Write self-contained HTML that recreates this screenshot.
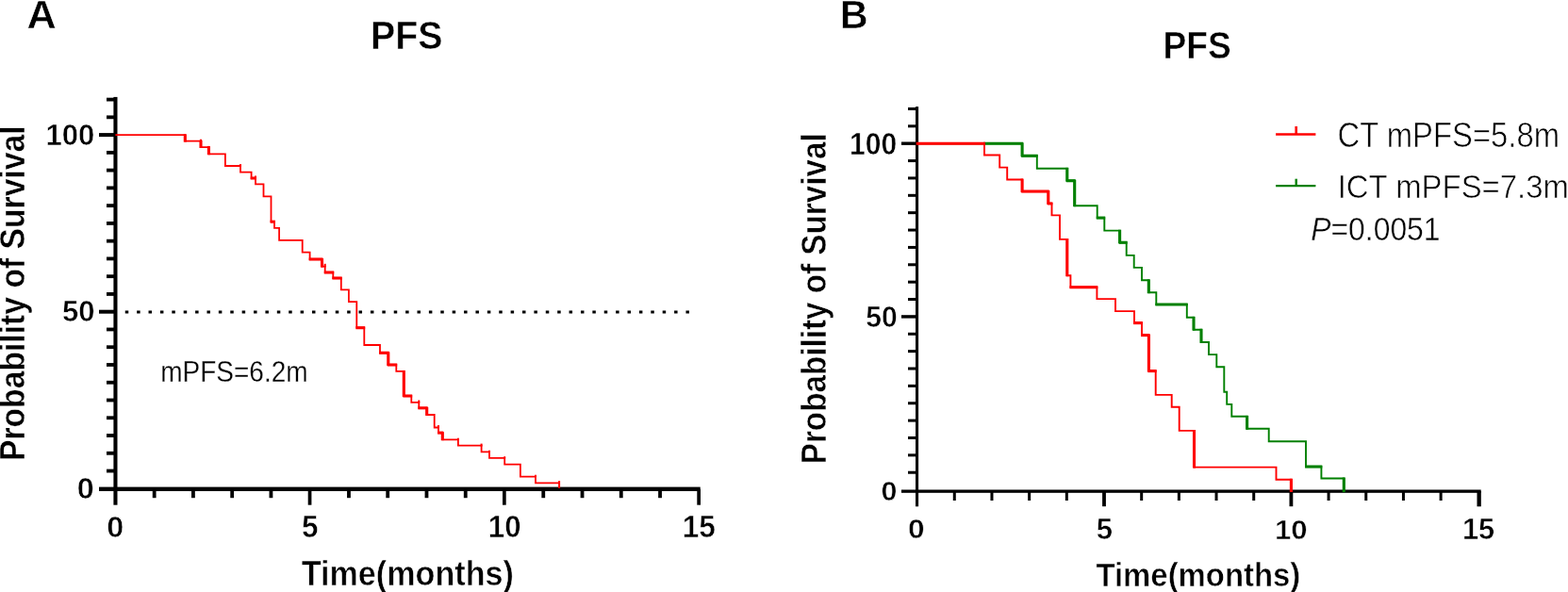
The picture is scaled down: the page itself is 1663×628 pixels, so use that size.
<!DOCTYPE html>
<html><head><meta charset="utf-8"><title>PFS Kaplan-Meier curves</title>
<style>html,body{margin:0;padding:0;background:#fff;}svg{display:block;}</style></head>
<body>
<svg width="1663" height="628" viewBox="0 0 1663 628">
<rect width="1663" height="628" fill="#fff"/>
<g fill="#000"><rect x="120.4" y="102.9" width="4.1" height="432.8"/><rect x="105" y="516.6" width="637.7" height="4.4"/><rect x="113" y="497.64" width="9.4" height="3.8"/><rect x="113" y="478.88" width="9.4" height="3.8"/><rect x="113" y="460.12" width="9.4" height="3.8"/><rect x="113" y="441.36" width="9.4" height="3.8"/><rect x="113" y="422.6" width="9.4" height="3.8"/><rect x="113" y="403.84" width="9.4" height="3.8"/><rect x="113" y="385.08" width="9.4" height="3.8"/><rect x="113" y="366.32" width="9.4" height="3.8"/><rect x="113" y="347.56" width="9.4" height="3.8"/><rect x="105" y="328.7" width="17.4" height="4"/><rect x="113" y="310.04" width="9.4" height="3.8"/><rect x="113" y="291.28" width="9.4" height="3.8"/><rect x="113" y="272.52" width="9.4" height="3.8"/><rect x="113" y="253.76" width="9.4" height="3.8"/><rect x="113" y="235" width="9.4" height="3.8"/><rect x="113" y="216.24" width="9.4" height="3.8"/><rect x="113" y="197.48" width="9.4" height="3.8"/><rect x="113" y="178.72" width="9.4" height="3.8"/><rect x="113" y="159.96" width="9.4" height="3.8"/><rect x="105" y="141.1" width="17.4" height="4"/><rect x="113" y="122.44" width="9.4" height="3.8"/><rect x="113" y="103.68" width="9.4" height="3.8"/><rect x="161.76" y="518.8" width="3.8" height="9.4"/><rect x="203.02" y="518.8" width="3.8" height="9.4"/><rect x="244.28" y="518.8" width="3.8" height="9.4"/><rect x="285.54" y="518.8" width="3.8" height="9.4"/><rect x="326.7" y="518.8" width="3.7" height="16.9"/><rect x="368.06" y="518.8" width="3.8" height="9.4"/><rect x="409.32" y="518.8" width="3.8" height="9.4"/><rect x="450.58" y="518.8" width="3.8" height="9.4"/><rect x="491.84" y="518.8" width="3.8" height="9.4"/><rect x="533" y="518.8" width="3.7" height="16.9"/><rect x="574.36" y="518.8" width="3.8" height="9.4"/><rect x="615.62" y="518.8" width="3.8" height="9.4"/><rect x="656.88" y="518.8" width="3.8" height="9.4"/><rect x="698.14" y="518.8" width="3.8" height="9.4"/><rect x="739.3" y="518.8" width="3.7" height="16.9"/><rect x="971" y="113.1" width="3.1" height="424.2"/><rect x="956" y="519.5" width="614.7" height="3.3"/><rect x="963" y="499.73" width="9.5" height="3"/><rect x="963" y="481.36" width="9.5" height="3"/><rect x="963" y="462.99" width="9.5" height="3"/><rect x="963" y="444.62" width="9.5" height="3"/><rect x="963" y="426.25" width="9.5" height="3"/><rect x="963" y="407.88" width="9.5" height="3"/><rect x="963" y="389.51" width="9.5" height="3"/><rect x="963" y="371.14" width="9.5" height="3"/><rect x="963" y="352.77" width="9.5" height="3"/><rect x="956" y="334.2" width="16.5" height="3.4"/><rect x="963" y="316.03" width="9.5" height="3"/><rect x="963" y="297.66" width="9.5" height="3"/><rect x="963" y="279.29" width="9.5" height="3"/><rect x="963" y="260.92" width="9.5" height="3"/><rect x="963" y="242.55" width="9.5" height="3"/><rect x="963" y="224.18" width="9.5" height="3"/><rect x="963" y="205.81" width="9.5" height="3"/><rect x="963" y="187.44" width="9.5" height="3"/><rect x="963" y="169.07" width="9.5" height="3"/><rect x="956" y="150.5" width="16.5" height="3.4"/><rect x="963" y="132.33" width="9.5" height="3"/><rect x="963" y="113.96" width="9.5" height="3"/><rect x="1010.78" y="521" width="3" height="10"/><rect x="1050.46" y="521" width="3" height="10"/><rect x="1090.14" y="521" width="3" height="10"/><rect x="1129.82" y="521" width="3" height="10"/><rect x="1169.1" y="521" width="3.8" height="16.2"/><rect x="1209.18" y="521" width="3" height="10"/><rect x="1248.86" y="521" width="3" height="10"/><rect x="1288.54" y="521" width="3" height="10"/><rect x="1328.22" y="521" width="3" height="10"/><rect x="1367.5" y="521" width="3.8" height="16.2"/><rect x="1407.58" y="521" width="3" height="10"/><rect x="1447.26" y="521" width="3" height="10"/><rect x="1486.94" y="521" width="3" height="10"/><rect x="1526.62" y="521" width="3" height="10"/><rect x="1566.5" y="521" width="4.3" height="16.3"/></g>
<line x1="132.75" y1="331" x2="735" y2="331" stroke="#000" stroke-width="3" stroke-dasharray="3.5 8.89"/>
<g fill="none" stroke-linejoin="miter" stroke-linecap="butt">
<path d="M122.4 143.2 L196.3 143.2 L196.3 149.7 L213 149.7 L213 156.1 L221.4 156.1 L221.4 163.3 L238.9 163.3 L238.9 176 L255 176 L255 182.6 L266.6 182.6 L266.6 189 L271 189 L271 195.4 L279.5 195.4 L279.5 208.3 L287.5 208.3 L287.5 235.2 L291 235.2 L291 241.8 L296.1 241.8 L296.1 254.8 L320.7 254.8 L320.7 267.6 L328.6 267.6 L328.6 275 L341.5 275 L341.5 282.7 L344.7 282.7 L344.7 289 L353.3 289 L353.3 295 L361.8 295 L361.8 307.4 L369.9 307.4 L369.9 320.2 L378.3 320.2 L378.3 347.7 L386.3 347.7 L386.3 366 L403 366 L403 374.3 L411.8 374.3 L411.8 387 L420.3 387 L420.3 393.8 L428.3 393.8 L428.3 420 L436.3 420 L436.3 426.8 L444.3 426.8 L444.3 432.8 L452.7 432.8 L452.7 440 L460.7 440 L460.7 453.5 L465 453.5 L465 459.1 L469.3 459.1 L469.3 466.3 L485.9 466.3 L485.9 472.7 L510.6 472.7 L510.6 479.3 L519 479.3 L519 485.9 L535.2 485.9 L535.2 492.7 L551.9 492.7 L551.9 505.7 L568 505.7 L568 512.4 L593.1 512.4" stroke="#f00" stroke-width="1.8"/>
<line x1="196.3" y1="142.3" x2="196.3" y2="150.6" stroke="#f00" stroke-width="3.1"/><line x1="213" y1="148.8" x2="213" y2="157" stroke="#f00" stroke-width="3.1"/><line x1="221.4" y1="155.2" x2="221.4" y2="164.2" stroke="#f00" stroke-width="3.1"/><line x1="265.7" y1="189" x2="271.9" y2="189" stroke="#f00" stroke-width="3.1"/><line x1="286.6" y1="235.2" x2="291.9" y2="235.2" stroke="#f00" stroke-width="3.1"/><line x1="327.7" y1="275" x2="342.4" y2="275" stroke="#f00" stroke-width="3.1"/><line x1="341.5" y1="274.1" x2="341.5" y2="283.6" stroke="#f00" stroke-width="3.1"/><line x1="343.8" y1="289" x2="354.2" y2="289" stroke="#f00" stroke-width="3.1"/><line x1="352.4" y1="295" x2="362.7" y2="295" stroke="#f00" stroke-width="3.1"/><line x1="377.4" y1="347.7" x2="387.2" y2="347.7" stroke="#f00" stroke-width="3.1"/><line x1="402.1" y1="374.3" x2="412.7" y2="374.3" stroke="#f00" stroke-width="3.1"/><line x1="411.8" y1="373.4" x2="411.8" y2="387.9" stroke="#f00" stroke-width="3.1"/><line x1="410.9" y1="387" x2="421.2" y2="387" stroke="#f00" stroke-width="3.1"/><line x1="428.3" y1="392.9" x2="428.3" y2="420.9" stroke="#f00" stroke-width="3.1"/><line x1="427.4" y1="420" x2="437.2" y2="420" stroke="#f00" stroke-width="3.1"/><line x1="443.4" y1="432.8" x2="453.6" y2="432.8" stroke="#f00" stroke-width="3.1"/><line x1="452.7" y1="431.9" x2="452.7" y2="440.9" stroke="#f00" stroke-width="3.1"/><line x1="464.1" y1="459.1" x2="470.2" y2="459.1" stroke="#f00" stroke-width="3.1"/><line x1="469.3" y1="458.2" x2="469.3" y2="467.2" stroke="#f00" stroke-width="3.1"/>
<line x1="213" y1="147.7" x2="213" y2="150.5" stroke="#f00" stroke-width="2"/><line x1="221.4" y1="154.9" x2="221.4" y2="157" stroke="#f00" stroke-width="2"/><line x1="255" y1="174" x2="255" y2="177" stroke="#f00" stroke-width="2"/><line x1="271" y1="186.5" x2="271" y2="190" stroke="#f00" stroke-width="2"/><line x1="344.7" y1="279.8" x2="344.7" y2="283.5" stroke="#f00" stroke-width="2"/><line x1="444.3" y1="424.5" x2="444.3" y2="427.5" stroke="#f00" stroke-width="2"/><line x1="465" y1="451" x2="465" y2="454" stroke="#f00" stroke-width="2"/><line x1="485.9" y1="464.7" x2="485.9" y2="467" stroke="#f00" stroke-width="2"/><line x1="510.6" y1="470.6" x2="510.6" y2="473.5" stroke="#f00" stroke-width="2"/><line x1="519" y1="477.8" x2="519" y2="480" stroke="#f00" stroke-width="2"/><line x1="535.2" y1="484.2" x2="535.2" y2="486.5" stroke="#f00" stroke-width="2"/><line x1="568" y1="503.7" x2="568" y2="506" stroke="#f00" stroke-width="2"/><line x1="593.1" y1="510.1" x2="593.1" y2="518" stroke="#f00" stroke-width="2"/>
<path d="M972.6 152.2 L1084.1 152.2 L1084.1 165.29 L1099.8 165.29 L1099.8 178.73 L1131.8 178.73 L1131.8 191.72 L1139.7 191.72 L1139.7 218.25 L1163.7 218.25 L1163.7 231.09 L1171.3 231.09 L1171.3 244.63 L1187.6 244.63 L1187.6 257.27 L1194.7 257.27 L1194.7 270.91 L1202.7 270.91 L1202.7 283.9 L1211 283.9 L1211 297.24 L1218.3 297.24 L1218.3 310.28 L1226.3 310.28 L1226.3 323.02 L1258.8 323.02 L1258.8 336.76 L1266 336.76 L1266 349.7 L1274 349.7 L1274 362.99 L1282 362.99 L1282 376.08 L1290.3 376.08 L1290.3 389.32 L1298.3 389.32 L1298.3 415.7 L1301.2 415.7 L1301.2 428.89 L1306.3 428.89 L1306.3 441.78 L1322.6 441.78 L1322.6 454.82 L1345.7 454.82 L1345.7 468.21 L1385 468.21 L1385 495.04 L1401.4 495.04 L1401.4 507.43 L1425.3 507.43 L1425.3 521.27" stroke="#008000" stroke-width="1.9"/>
<line x1="1043.1" y1="152.2" x2="1085" y2="152.2" stroke="#008000" stroke-width="3.1"/><line x1="1084.1" y1="151.3" x2="1084.1" y2="166.19" stroke="#008000" stroke-width="3.1"/><line x1="1083.2" y1="165.29" x2="1100.7" y2="165.29" stroke="#008000" stroke-width="3.1"/><line x1="1131.8" y1="177.83" x2="1131.8" y2="192.62" stroke="#008000" stroke-width="3.1"/><line x1="1130.9" y1="191.72" x2="1140.6" y2="191.72" stroke="#008000" stroke-width="3.1"/><line x1="1139.7" y1="190.82" x2="1139.7" y2="219.15" stroke="#008000" stroke-width="3.1"/><line x1="1162.8" y1="231.09" x2="1172.2" y2="231.09" stroke="#008000" stroke-width="3.1"/><line x1="1187.6" y1="243.73" x2="1187.6" y2="258.17" stroke="#008000" stroke-width="3.1"/><line x1="1186.7" y1="257.27" x2="1195.6" y2="257.27" stroke="#008000" stroke-width="3.1"/><line x1="1218.3" y1="296.34" x2="1218.3" y2="311.18" stroke="#008000" stroke-width="3.1"/><line x1="1225.4" y1="323.02" x2="1259.7" y2="323.02" stroke="#008000" stroke-width="3.1"/><line x1="1266" y1="335.86" x2="1266" y2="350.6" stroke="#008000" stroke-width="3.1"/><line x1="1274" y1="348.8" x2="1274" y2="363.89" stroke="#008000" stroke-width="3.1"/><line x1="1322.6" y1="440.88" x2="1322.6" y2="455.72" stroke="#008000" stroke-width="3.1"/><line x1="1384.1" y1="495.04" x2="1402.3" y2="495.04" stroke="#008000" stroke-width="3.1"/><line x1="1425.3" y1="506.53" x2="1425.3" y2="522.17" stroke="#008000" stroke-width="3.1"/>
<path d="M972.6 152.2 L1044 152.2 L1044 164.56 L1060.2 164.56 L1060.2 177.62 L1068.2 177.62 L1068.2 190.53 L1084.1 190.53 L1084.1 203.04 L1111.8 203.04 L1111.8 215.9 L1115.5 215.9 L1115.5 228.41 L1124 228.41 L1124 253.88 L1131.8 253.88 L1131.8 292.31 L1135.4 292.31 L1135.4 304.72 L1163.4 304.72 L1163.4 317.13 L1183 317.13 L1183 330.09 L1203 330.09 L1203 342.6 L1211 342.6 L1211 355.56 L1218.4 355.56 L1218.4 393.54 L1225.7 393.54 L1225.7 418.86 L1242.7 418.86 L1242.7 431.72 L1250.7 431.72 L1250.7 456.89 L1266.5 456.89 L1266.5 495.62 L1353.5 495.62 L1353.5 508.68 L1369.4 508.68 L1369.4 521.09" stroke="#f00" stroke-width="1.9"/>
<line x1="971.7" y1="152.2" x2="1044.9" y2="152.2" stroke="#f00" stroke-width="3.1"/><line x1="1084.1" y1="189.63" x2="1084.1" y2="203.94" stroke="#f00" stroke-width="3.1"/><line x1="1083.2" y1="203.04" x2="1112.7" y2="203.04" stroke="#f00" stroke-width="3.1"/><line x1="1111.8" y1="202.14" x2="1111.8" y2="216.8" stroke="#f00" stroke-width="3.1"/><line x1="1110.9" y1="215.9" x2="1116.4" y2="215.9" stroke="#f00" stroke-width="3.1"/><line x1="1131.8" y1="252.98" x2="1131.8" y2="293.21" stroke="#f00" stroke-width="3.1"/><line x1="1134.5" y1="304.72" x2="1164.3" y2="304.72" stroke="#f00" stroke-width="3.1"/><line x1="1202.1" y1="342.6" x2="1211.9" y2="342.6" stroke="#f00" stroke-width="3.1"/><line x1="1210.1" y1="355.56" x2="1219.3" y2="355.56" stroke="#f00" stroke-width="3.1"/><line x1="1218.4" y1="354.66" x2="1218.4" y2="394.44" stroke="#f00" stroke-width="3.1"/><line x1="1217.5" y1="393.54" x2="1226.6" y2="393.54" stroke="#f00" stroke-width="3.1"/><line x1="1266.5" y1="455.99" x2="1266.5" y2="496.52" stroke="#f00" stroke-width="3.1"/><line x1="1369.4" y1="507.78" x2="1369.4" y2="521.99" stroke="#f00" stroke-width="3.1"/>
<line x1="1353.1" y1="142.5" x2="1395.4" y2="142.5" stroke="#f00" stroke-width="2.6"/>
<line x1="1374.7" y1="134" x2="1374.7" y2="142.5" stroke="#f00" stroke-width="2.6"/>
<line x1="1353.1" y1="197.2" x2="1395.4" y2="197.2" stroke="#008000" stroke-width="2.2"/>
<line x1="1374.7" y1="189.7" x2="1374.7" y2="197.2" stroke="#008000" stroke-width="2.4"/>
</g>
<g font-family="'Liberation Sans', sans-serif" fill="#000">
<text transform="translate(28.442 29.65) scale(1.083 1.054)" font-size="40" font-weight="bold" stroke="#fff" stroke-width="0.468">A</text>
<text transform="translate(392.918 52.1) scale(0.937 1.033)" font-size="42" font-weight="bold" stroke="#fff" stroke-width="0.508">PFS</text>
<text transform="translate(891.005 29.65) scale(1.026 1.071)" font-size="40" font-weight="bold" stroke="#fff" stroke-width="0.477">B</text>
<text transform="translate(1233.464 62.05) scale(0.929 1.022)" font-size="40" font-weight="bold" stroke="#fff" stroke-width="0.513">PFS</text>
<text transform="translate(48.484 153.735) scale(1.038 1.052)" font-size="30" font-weight="bold" stroke="#fff" stroke-width="0.479">100</text>
<text transform="translate(65.928 341.139) scale(1.038 1.038)" font-size="30" font-weight="bold" stroke="#fff" stroke-width="0.482">50</text>
<text transform="translate(81.866 528.944) scale(1.08 1.019)" font-size="30" font-weight="bold" stroke="#fff" stroke-width="0.476">0</text>
<text transform="translate(113.266 569.832) scale(1.08 1.061)" font-size="30" font-weight="bold" stroke="#fff" stroke-width="0.467">0</text>
<text transform="translate(320.115 570.02) scale(1.051 1.1)" font-size="30" font-weight="bold" stroke="#fff" stroke-width="0.465">5</text>
<text transform="translate(517.775 570.336) scale(1.043 1.099)" font-size="30" font-weight="bold" stroke="#fff" stroke-width="0.467">10</text>
<text transform="translate(723.65 569.926) scale(1.056 1.081)" font-size="30" font-weight="bold" stroke="#fff" stroke-width="0.468">15</text>
<text transform="translate(319.759 620.85) scale(0.949 1.007)" font-size="36" font-weight="bold" stroke="#fff" stroke-width="0.511">Time(months)</text>
<text transform="translate(26 489.054) rotate(-90) scale(0.963 1.039)" font-size="35" font-weight="bold" stroke="#fff" stroke-width="0.4">Probability of Survival</text>
<text transform="translate(170.206 404.62) scale(0.934 1.031)" font-size="30" stroke="#fff" stroke-width="0.244">mPFS=6.2m</text>
<text transform="translate(900.949 163.718) scale(1.004 1.108)" font-size="30" font-weight="bold" stroke="#fff" stroke-width="0.474">100</text>
<text transform="translate(918.263 347.34) scale(1.003 1.033)" font-size="30" font-weight="bold" stroke="#fff" stroke-width="0.491">50</text>
<text transform="translate(934.441 530.556) scale(1.017 0.981)" font-size="30" font-weight="bold" stroke="#fff" stroke-width="0.5">0</text>
<text transform="translate(963.091 571.257) scale(1.059 0.977)" font-size="30" font-weight="bold" stroke="#fff" stroke-width="0.491">0</text>
<text transform="translate(1162.829 571.743) scale(1.037 1.024)" font-size="30" font-weight="bold" stroke="#fff" stroke-width="0.485">5</text>
<text transform="translate(1351.981 571.764) scale(1.04 1.001)" font-size="30" font-weight="bold" stroke="#fff" stroke-width="0.49">10</text>
<text transform="translate(1551.006 571.943) scale(1.026 1.024)" font-size="30" font-weight="bold" stroke="#fff" stroke-width="0.488">15</text>
<text transform="translate(1162.473 621.55) scale(0.914 0.995)" font-size="36" font-weight="bold" stroke="#fff" stroke-width="0.524">Time(months)</text>
<text transform="translate(876.25 492.274) rotate(-90) scale(0.95 1.031)" font-size="35" font-weight="bold" stroke="#fff" stroke-width="0.505">Probability of Survival</text>
<text transform="translate(1418.421 155.7) scale(0.966 1.074)" font-size="34" stroke="#fff" stroke-width="0.588">CT mPFS=5.8m</text>
<text transform="translate(1418.653 209.6) scale(0.968 1.023)" font-size="34" stroke="#fff" stroke-width="0.603">ICT mPFS=7.3m</text>
<text transform="translate(1390.18 254.6) scale(0.938 1.053)" font-size="34" stroke="#fff" stroke-width="0.402"><tspan font-style="italic">P</tspan>=0.0051</text>
</g>
</svg>
</body></html>
